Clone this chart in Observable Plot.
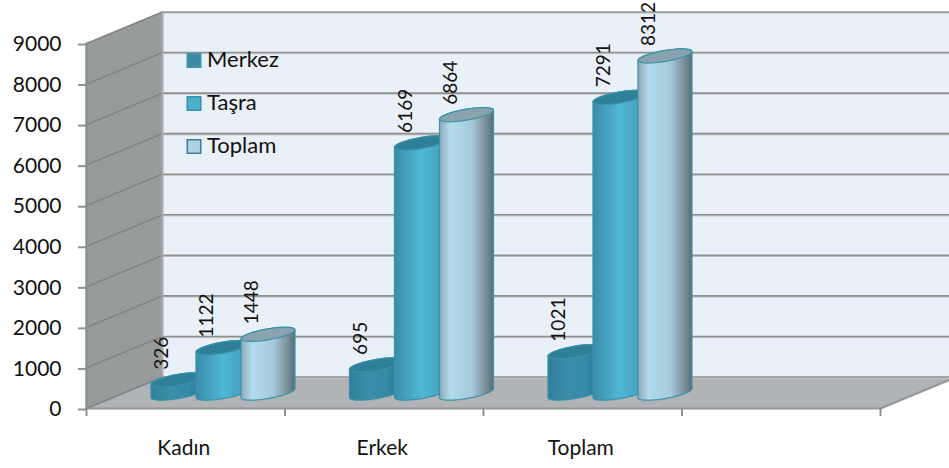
<!DOCTYPE html>
<html><head><meta charset="utf-8">
<style>html,body{margin:0;padding:0;background:#fff}svg{display:block}</style>
<script src="https://cdn.jsdelivr.net/npm/d3@7"></script>
<script src="https://cdn.jsdelivr.net/npm/@observablehq/plot@0.6"></script>
</head><body><div id="c"></div>
<script>
const categories = ["Kadın", "Erkek", "Toplam"];
const seriesNames = ["Merkez", "Taşra", "Toplam"];
const merkez = [326, 695, 1021];
const tasra = [1122, 6169, 7291];
const toplam = [1448, 6864, 8312];
const yTicks = [0, 1000, 2000, 3000, 4000, 5000, 6000, 7000, 8000, 9000];
const xTicks = [0, 1, 2, 3, 4];
const seriesValues = [merkez, tasra, toplam];

const looks = [
  {grad:"gM", stops:[["0%","#2f7f99"],["35%","#3c8dab"],["70%","#358aa6"],["100%","#286f88"]], top:"#2f7f98", edge:"#3a90a9", swatch:"#3e8aa5", swEdge:"#3e97ad"},
  {grad:"gT", stops:[["0%","#3a8da8"],["50%","#4fb7d6"],["80%","#46a5c2"],["100%","#317f98"]], top:"#2f7f98", edge:"#3a90a9", swatch:"#4bb0cd", swEdge:"#3a8fa9"},
  {grad:"gP", stops:[["0%","#8da8b4"],["20%","#b2dcee"],["60%","#a6c9d9"],["85%","#7b929c"],["100%","#566f7a"]], top:"#89a3ae", edge:"#3b93ab", swatch:"#afd3e3", swEdge:"#39829a"}
];

// 3D helpers, in scale units: one category is one x unit
const pxX = 1 / 198.5, pxY = 9000 / 365;
const depthX = 76 * pxX, depthY = 31.5 * pxY;
const at = (x, y, d = 0) => ({x: x + d * depthX, y: y + d * depthY});
const rx = 27 * pxX, shear = 4.5 * pxY, ry = 5.5 * pxY, step = 45 * pxX, cylDepth = 0.49;
const ell = (cx, cy, t) => ({x: cx + rx * Math.cos(t), y: cy + shear * Math.cos(t) - ry * Math.sin(t)});
const arc = (cx, cy, a, b) => d3.range(0, 37).map(k => ell(cx, cy, a + (b - a) * k / 36));

const poly = (pts, o) => Plot.line(pts, {x: "x", y: "y", curve: "linear", ...o});
const marks = [];

marks.push(() => {
  const defs = d3.create("svg:defs");
  looks.forEach(l => {
    const g = defs.append("linearGradient").attr("id", l.grad).attr("x1", 0).attr("x2", 1).attr("y1", 0).attr("y2", 0);
    l.stops.forEach(s => g.append("stop").attr("offset", s[0]).attr("stop-color", s[1]));
  });
  return defs.node();
});

const yMax = 9000, xMax = 4.4;
// walls and floor
marks.push(poly([at(0,yMax,1),at(xMax,yMax,1),at(xMax,0,1),at(0,0,1),at(0,yMax,1)], {fill:"#e9f0f7", stroke:"none"}));
marks.push(poly([at(0,yMax,0),at(0,yMax,1),at(0,0,1),at(0,0,0),at(0,yMax,0)], {fill:"#979b9b", stroke:"none"}));
marks.push(poly([at(0,0,0),at(4,0,0),at(4,0,1),at(xMax,0,1),at(0,0,1),at(0,0,0)], {fill:"#b0b4b7", stroke:"none"}));
// gridlines
yTicks.forEach(v => {
  marks.push(poly([at(0,v,1),at(xMax,v,1)], {stroke:"#c9ccce", strokeWidth:1.5, dy:1}));
  marks.push(poly([at(0,v,1),at(xMax,v,1)], {stroke:"#8f9090", strokeWidth:1.6}));
  marks.push(poly([at(0,v,0),at(0,v,1)], {stroke:"#808383", strokeWidth:1.4}));
});
marks.push(poly([at(0,0,1),at(0,yMax,1)], {stroke:"#a8abab", strokeWidth:2}));
marks.push(poly([at(0,0,0),at(0,yMax,0)], {stroke:"#8f9090", strokeWidth:2.5}));
marks.push(poly([at(0,0,0),at(4,0,0),at(4,0,1)], {stroke:"#939596", strokeWidth:2}));

// cylinders
seriesValues.forEach((vals, s) => {
  vals.forEach((v, i) => {
    const c = at(i + 0.5 + (s - 1) * step, 0, cylDepth);
    const top = c.y + v;
    const body = [...arc(c.x, top, Math.PI, 2 * Math.PI), ...arc(c.x, c.y, 0, Math.PI)];
    body.push(body[0]);
    marks.push(poly(body, {fill:`url(#${looks[s].grad})`, stroke:looks[s].edge, strokeWidth:1.2}));
    const lid = arc(c.x, top, 0, 2 * Math.PI);
    marks.push(poly(lid, {fill:looks[s].top, stroke:looks[s].edge, strokeWidth:1.2}));
  });
});
// value labels
seriesValues.forEach((vals, s) => {
  marks.push(Plot.text(vals, {
    x: (v, i) => at(i + 0.5 + (s - 1) * step, 0, cylDepth).x,
    y: v => at(0, 0, cylDepth).y + v,
    text: v => String(v),
    rotate: -90, textAnchor: "start", lineAnchor: "middle",
    dx: -16, dy: -10, fontSize: 19, fill: "#111"
  }));
});

// legend
const legendRow = s => 8580 - s * 1060;
marks.push(Plot.dot(seriesNames, {
  x: () => 0.5416, y: (d, i) => legendRow(i), symbol: "square", r: 7.6,
  fill: (d, i) => looks[i].swatch, stroke: (d, i) => looks[i].swEdge, strokeWidth: 1.6
}));
marks.push(Plot.text(seriesNames, {
  x: () => 0.5416, y: (d, i) => legendRow(i), text: d => d,
  textAnchor: "start", dx: 13, dy: -1, fontSize: 22, fill: "#111"
}));

// axes
marks.push(Plot.axisY({ticks: yTicks, tickSize: 8, tickPadding: 17, stroke: "#8f9090", strokeWidth: 2, fill: "#111", fontSize: 21, label: null, dy: 1, tickFormat: d => String(d)}));
marks.push(Plot.axisX({ticks: xTicks, tickSize: 8, tickFormat: () => "", stroke: "#8f9090", strokeWidth: 2, label: null}));
marks.push(Plot.axisX({ticks: categories.map((d, i) => i + 0.5), tickSize: 0, tickPadding: 32, fill: "#111", fontSize: 21, label: null, dx: -2, tickFormat: d => categories[Math.floor(d)]}));

const chart = Plot.plot({
  width: 949, height: 468,
  marginLeft: 86, marginRight: 69, marginTop: 43, marginBottom: 60,
  x: {domain: [0, 4], label: null},
  y: {domain: [0, 9000], label: null},
  style: {fontFamily: "Lato, sans-serif", background: "#fff", overflow: "hidden"},
  marks
});
document.getElementById("c").append(chart);
</script></body></html>
